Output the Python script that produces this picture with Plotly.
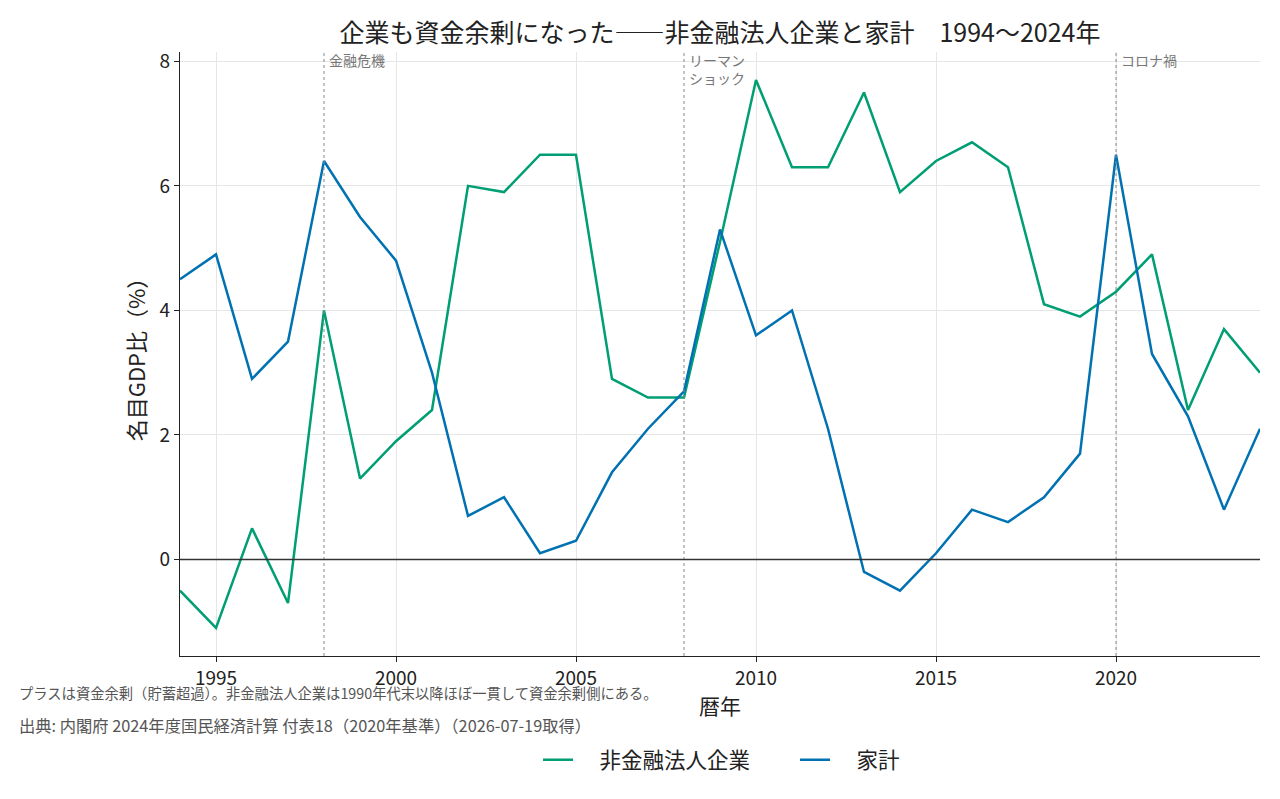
import plotly.graph_objects as go

years = list(range(1994, 2025))
corp = [-0.5, -1.1, 0.5, -0.7, 4.0, 1.3, 1.9, 2.4, 6.0, 5.9, 6.5, 6.5, 2.9, 2.6, 2.6, 5.1,
        7.7, 6.3, 6.3, 7.5, 5.9, 6.4, 6.7, 6.3, 4.1, 3.9, 4.3, 4.9, 2.4, 3.7, 3.0]
house = [4.5, 4.9, 2.9, 3.5, 6.4, 5.5, 4.8, 3.0, 0.7, 1.0, 0.1, 0.3, 1.4, 2.1, 2.7, 5.3,
         3.6, 4.0, 2.1, -0.2, -0.5, 0.1, 0.8, 0.6, 1.0, 1.7, 6.5, 3.3, 2.3, 0.8, 2.1]
events_x = [1998, 2008, 2020]
events_label = ["金融危機", "リーマン<br>ショック", "コロナ禍"]
series_names = ["非金融法人企業", "家計"]
colors = ["#009E73", "#0072B2"]

FONT = "Noto Sans CJK JP"

fig = go.Figure()
for name, vals, c in zip(series_names, [corp, house], colors):
    fig.add_trace(go.Scatter(x=years, y=vals, mode="lines", name="\u2002\u2002" + name,
                             line=dict(color=c, width=2.5)))

for ex, lab in zip(events_x, events_label):
    fig.add_vline(x=ex, line=dict(color="#888888", width=1, dash="dot"))
    fig.add_annotation(x=ex, y=1, xref="x", yref="paper", text=lab, showarrow=False,
                       xanchor="left", yanchor="top", xshift=3, yshift=4,
                       align="left", font=dict(size=14, color="#777777", family=FONT))

fig.add_hline(y=0, line=dict(color="#333333", width=1.3))

fig.add_annotation(text="プラスは資金余剰（貯蓄超過）。非金融法人企業は1990年代末以降ほぼ一貫して資金余剰側にある。",
                   xref="paper", yref="paper", x=-0.1505, y=-0.061, xanchor="left", yanchor="middle",
                   showarrow=False, font=dict(size=14.3, color="#555555", family=FONT))
fig.add_annotation(text="出典: 内閣府 2024年度国民経済計算 付表18（2020年基準）（2026-07-19取得）",
                   xref="paper", yref="paper", x=-0.1505, y=-0.114, xanchor="left", yanchor="middle",
                   showarrow=False, font=dict(size=16.3, color="#555555", family=FONT))

fig.update_layout(
    width=1280, height=799,
    paper_bgcolor="white", plot_bgcolor="white",
    margin=dict(l=180, r=20, t=52, b=143),
    font=dict(family=FONT, color="#222222"),
    title=dict(text="企業も資金余剰になった――非金融法人企業と家計　1994〜2024年",
               x=0.5625, xanchor="center", y=0.958, yanchor="middle",
               font=dict(size=25, color="#222222", family=FONT)),
    showlegend=True,
    legend=dict(orientation="h", x=0.3315, xanchor="left", y=-0.172, yanchor="middle",
                font=dict(size=21.5, family=FONT), entrywidth=212, entrywidthmode="pixels"),
    xaxis=dict(range=[1994, 2024], tickvals=[1995, 2000, 2005, 2010, 2015, 2020],
               showgrid=True, gridcolor="#e6e6e6", gridwidth=1,
               showline=True, linecolor="#222222", linewidth=1.3,
               ticks="outside", ticklen=5, tickcolor="#222222",
               tickfont=dict(size=19, family=FONT),
               title=dict(text="暦年", font=dict(size=21, family=FONT), standoff=10),
               zeroline=False),
    yaxis=dict(range=[-1.55, 8.15], tickvals=[0, 2, 4, 6, 8],
               showgrid=True, gridcolor="#e6e6e6", gridwidth=1,
               showline=True, linecolor="#222222", linewidth=1.3,
               ticks="outside", ticklen=5, tickcolor="#222222",
               tickfont=dict(size=19, family=FONT),
               title=dict(text="名目GDP比（%）", font=dict(size=22, family=FONT), standoff=7),
               zeroline=False),
)

fig.write_html("out.html")
